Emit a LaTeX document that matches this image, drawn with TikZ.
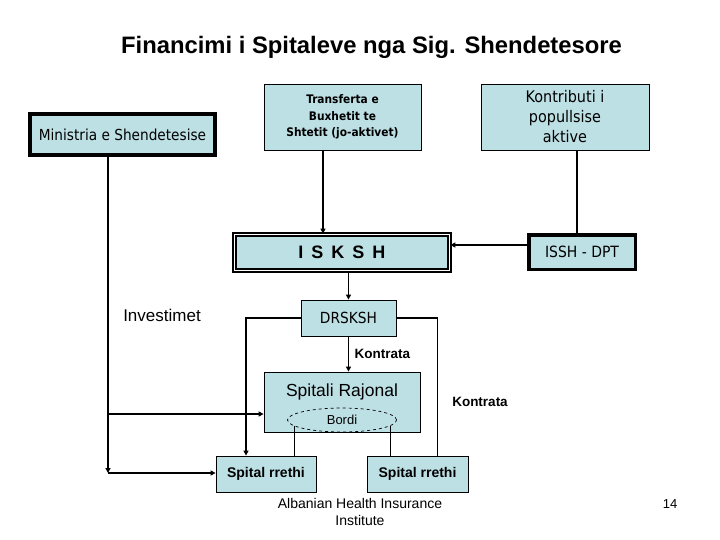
\documentclass[tikz,border=0pt]{standalone}
\usepackage{fontspec}
\setmainfont{Liberation Sans}
\newfontfamily\tahoma{DejaVu Sans Condensed}
\usetikzlibrary{arrows.meta,positioning,calc,shapes.geometric}
\definecolor{ahiiblue}{HTML}{BDE0E4}

\begin{document}
\begin{tikzpicture}[x=1pt,y=-1pt,
  box/.style={draw=black,fill=ahiiblue,line width=0.8pt,inner sep=2pt,align=center},
  conn/.style={line width=1.6pt},
  arr/.style={conn,-{Triangle[length=5pt,width=5pt]}},
  thinline/.style={line width=0.7pt},
  klabel/.style={font=\bfseries\fontsize{13.5}{15}\selectfont}]
  \useasboundingbox (0,0) rectangle (720,540);
  % title and free texts
  \node[font=\bfseries\fontsize{23.8}{28}\selectfont] (title) at (371.5,47)
       {Financimi i Spitaleve nga Sig. Shendetesore};
  \node[font=\fontsize{17}{20}\selectfont] (invest) at (162,315) {Investimet};
  \node[font=\fontsize{14}{17}\selectfont,align=center] (footer) at (360,511.5)
       {Albanian Health Insurance\\Institute};
  \node[font=\fontsize{13}{15}\selectfont] (page) at (670,504) {14};
  % sources of money
  \node[box,line width=4pt,minimum width=185pt,minimum height=41pt,
        font=\tahoma\fontsize{15.2}{16}\selectfont] (mini) at (122.5,135)
       {Ministria e Shendetesise};
  \node[box,minimum width=157pt,minimum height=66pt,
        font=\tahoma\bfseries\fontsize{11.8}{16.5}\selectfont] (trans) at (342.5,117)
       {Transferta e\\Buxhetit te\\Shtetit (jo-aktivet)};
  \node[box,minimum width=168pt,minimum height=66pt,
        font=\tahoma\fontsize{16}{20}\selectfont] (kontr) at (565,117)
       {Kontributi i\\popullsise\\aktive};
  % fund and its branches
  \node[box,line width=1.8pt,double=white,double distance=1pt,
        minimum width=215pt,minimum height=36pt,
        font=\bfseries\fontsize{18}{20}\selectfont] (isksh) at (342,252.5)
       {I\kern8pt S\kern8pt K\kern8pt S\kern8pt H};
  \node[box,line width=3.5pt,minimum width=106.5pt,minimum height=34.5pt,
        font=\tahoma\fontsize{15.5}{16}\selectfont] (issh) at (582,252) {ISSH - DPT};
  \node[box,minimum width=95pt,minimum height=36pt,
        font=\tahoma\fontsize{15.3}{16}\selectfont] (drsksh) at (348.5,318) {DRSKSH};
  % hospitals
  \node[box,minimum width=156pt,minimum height=60pt] (rajonal) at (342,402) {};
  \node[font=\fontsize{17.5}{20}\selectfont] (rajtxt) at (342,392) {Spitali Rajonal};
  \node[ellipse,draw=black,dashed,fill=ahiiblue,inner sep=0pt,line width=0.7pt,
        minimum width=109pt,minimum height=24pt,
        font=\fontsize{13}{15}\selectfont] (bordi) at (342,420) {Bordi};
  \node[box,minimum width=100pt,minimum height=36pt,
        font=\bfseries\fontsize{14}{16}\selectfont] (rrL) at (266,474) {Spital rrethi};
  \node[box,minimum width=101pt,minimum height=36pt,
        font=\bfseries\fontsize{14}{16}\selectfont] (rrR) at (417.5,474) {Spital rrethi};
  \node[klabel] (kontrB) at (480,402) {Kontrata};
  % connectors
  \coordinate (mcorner) at (108,473);
  \coordinate (mbranch) at (108,414);
  \draw[arr] (mini.south -| mcorner) -- (mcorner);
  \draw[arr] (mcorner) -- (mcorner -| rrL.west);
  \draw[arr] (mbranch) -- (mbranch -| rajonal.west);
  \draw[arr] ([xshift=-19.5pt]trans.south) -- ([xshift=-19.5pt]trans.south |- isksh.north);
  \draw[conn] ([xshift=12pt]kontr.south) -- ([xshift=12pt]kontr.south |- issh.north);
  \draw[arr] ([yshift=7pt]issh.west) -- ([yshift=7pt]issh.west -| isksh.east);
  \draw[arr] (isksh.south -| drsksh) -- (drsksh.north);
  \draw[arr] (drsksh.south) -- node[klabel,right,xshift=2pt] (kontrA) {Kontrata}
             (drsksh.south |- rajonal.north);
  \draw[arr] (drsksh.west) -| ([xshift=-20pt]rrL.north);
  \draw[conn] (drsksh.east) -| ([xshift=20pt]rrR.north);
  \draw[thinline] (bordi.187) -- (bordi.187 |- rrL.north);
  \draw[thinline] (bordi.-7) -- (bordi.-7 |- rrR.north);
\end{tikzpicture}
\end{document}
